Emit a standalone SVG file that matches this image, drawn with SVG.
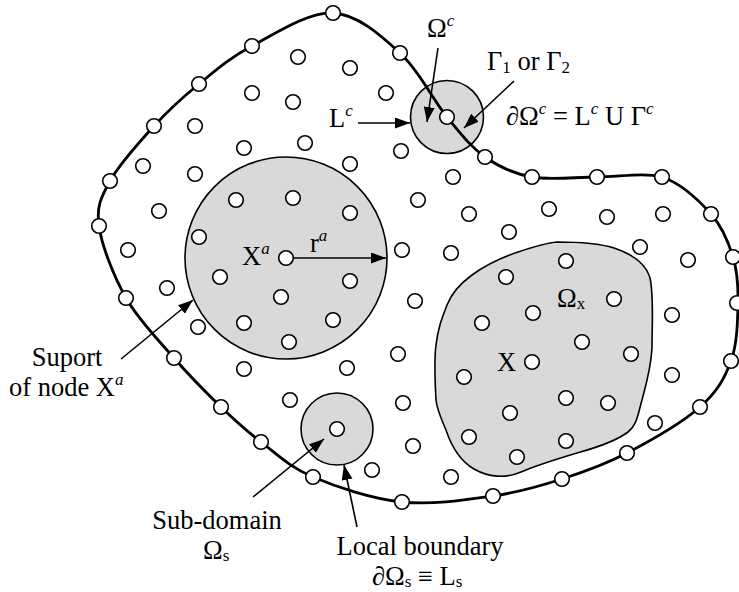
<svg xmlns="http://www.w3.org/2000/svg" xmlns:xlink="http://www.w3.org/1999/xlink" width="739" height="592" viewBox="0 0 739 592">
<style>
.region{fill:#d9d9d9;stroke:#000;stroke-width:1.6}
.domain{fill:none;stroke:#000;stroke-width:2.8}
.nd{fill:#fff;stroke:#000;stroke-width:1.6}
.arr{fill:none;stroke:#000;stroke-width:1.6;marker-end:url(#ah)}
text{font-family:"Liberation Serif","Times New Roman",serif;font-size:26.5px;fill:#000}
.sm{font-size:17px}
</style>
<defs>
<marker id="ah" markerUnits="userSpaceOnUse" markerWidth="16" markerHeight="12" refX="15" refY="5.5" orient="auto">
<path d="M0,0 L15,5.5 L0,11 z" fill="#000"/>
</marker>
<circle id="n" r="7.3"/>
</defs>
<rect width="739" height="592" fill="#fff"/>

<g id="support-xa">
<circle class="region" cx="286" cy="258" r="101"/>
</g>
<g id="omega-c">
<circle class="region" cx="447" cy="117" r="36.5"/>
</g>
<g id="omega-s">
<circle class="region" cx="337" cy="429" r="36"/>
</g>
<g id="omega-x">
<path class="region" d="M436,400 C435,382 434,360 436,345 C438,328 442,318 447,305 C452,292 461,283 472,275 C487,264 503,257 518,252 C533,247 545,243 557,242 C575,242 598,243 614,248 C632,254 646,264 650,278 C654,296 652,325 652,348 C651,368 646,385 642,400 C638,414 637,425 628,432 C615,442 595,448 577,453 C557,459 537,465 521,472 C505,479 488,477 474,469 C460,461 451,445 446,430 C441,418 437,410 436,400 Z"/>
</g>
<g id="domain">
<path class="domain" d="M333,13 C357.7,14.2 381,35.7 400,53 C419,70.3 432.8,99.7 447,117 C461.2,134.3 470.8,147 485,157 C499.2,167 513.3,173.7 532,177 C550.7,180.3 575.3,177 597,177 C618.7,177 643,172 662,177 C681,183.2 699.2,200.7 711,214 C722.8,227.3 728.5,242.2 733,257 C737.5,271.8 738.3,285.7 738,303 C737.7,320.3 737.3,343.7 731,361 C724.7,378.3 717.3,391.7 700,407 C682.7,422.3 650,441 627,453 C604,465 584.3,471.8 562,479 C539.7,486.2 519.7,492.2 493,496 C466.3,499.8 432,505.2 402,502 C372,498.8 336.5,487 313,477 C289.5,467 276.3,453.7 261,442 C245.7,430.3 235.5,421 221,407 C206.5,393 189.8,376.2 174,358 C158.2,339.8 138.5,320 126,298 C113.5,276 101.7,245.5 99,226 C96.3,206.5 100.8,197.7 110,181 C119.2,164.3 139.2,142.2 154,126 C168.8,109.8 182.7,97.3 199,84 C215.3,70.7 229.7,57.8 252,46 C274.3,34.2 308.3,11.8 333,13 Z"/>
</g>

<g id="boundary-nodes" class="nd">
<use href="#n" x="333" y="13"/><use href="#n" x="400" y="53"/><use href="#n" x="485" y="157"/><use href="#n" x="532" y="177"/><use href="#n" x="597" y="177"/><use href="#n" x="662" y="177"/><use href="#n" x="711" y="214"/><use href="#n" x="733" y="257"/><use href="#n" x="737" y="303"/><use href="#n" x="731" y="361"/><use href="#n" x="700" y="407"/><use href="#n" x="627" y="453"/><use href="#n" x="562" y="479"/><use href="#n" x="493" y="496"/><use href="#n" x="402" y="502"/><use href="#n" x="313" y="477"/><use href="#n" x="261" y="442"/><use href="#n" x="221" y="407"/><use href="#n" x="174" y="358"/><use href="#n" x="126" y="298"/><use href="#n" x="99" y="226"/><use href="#n" x="110" y="181"/><use href="#n" x="154" y="126"/><use href="#n" x="199" y="84"/><use href="#n" x="252" y="46"/>
</g>
<g id="interior-nodes" class="nd">
<use href="#n" x="298" y="57"/><use href="#n" x="350" y="68"/><use href="#n" x="252" y="93"/><use href="#n" x="293" y="102"/><use href="#n" x="195" y="126"/><use href="#n" x="305" y="143"/><use href="#n" x="244" y="148"/><use href="#n" x="350" y="164"/><use href="#n" x="143" y="166"/><use href="#n" x="195" y="174"/>
<use href="#n" x="386" y="93"/><use href="#n" x="401" y="151"/><use href="#n" x="453" y="177"/><use href="#n" x="418" y="200"/>
<use href="#n" x="159" y="211"/><use href="#n" x="128" y="250"/><use href="#n" x="167" y="288"/><use href="#n" x="198" y="327"/><use href="#n" x="244" y="369"/><use href="#n" x="347" y="368"/><use href="#n" x="290" y="400"/>
<use href="#n" x="236" y="200"/><use href="#n" x="293" y="198"/><use href="#n" x="350" y="213"/><use href="#n" x="199" y="237"/><use href="#n" x="220" y="277"/><use href="#n" x="350" y="281"/><use href="#n" x="281" y="297"/><use href="#n" x="244" y="323"/><use href="#n" x="333" y="320"/><use href="#n" x="289" y="342"/>
<use href="#n" x="469" y="214"/><use href="#n" x="549" y="209"/><use href="#n" x="607" y="217"/><use href="#n" x="663" y="214"/><use href="#n" x="509" y="232"/><use href="#n" x="402" y="250"/><use href="#n" x="451" y="253"/><use href="#n" x="640" y="247"/><use href="#n" x="688" y="260"/><use href="#n" x="415" y="301"/><use href="#n" x="672" y="315"/><use href="#n" x="398" y="354"/><use href="#n" x="672" y="375"/><use href="#n" x="403" y="403"/>
<use href="#n" x="566" y="261"/><use href="#n" x="506" y="277"/><use href="#n" x="614" y="299"/><use href="#n" x="533" y="313"/><use href="#n" x="482" y="323"/><use href="#n" x="582" y="342"/><use href="#n" x="631" y="354"/><use href="#n" x="464" y="377"/><use href="#n" x="566" y="398"/><use href="#n" x="608" y="403"/><use href="#n" x="510" y="413"/><use href="#n" x="469" y="437"/><use href="#n" x="566" y="441"/><use href="#n" x="517" y="457"/>
<use href="#n" x="413" y="446"/><use href="#n" x="372" y="470"/><use href="#n" x="451" y="477"/><use href="#n" x="655" y="423"/>
</g>
<g id="node-xa" class="nd"><use href="#n" x="286" y="258"/></g>
<g id="node-x" class="nd"><use href="#n" x="532" y="362"/></g>
<g id="node-c" class="nd"><use href="#n" x="447" y="117"/></g>
<g id="node-s" class="nd"><use href="#n" x="337" y="429"/></g>

<g id="connectors">
<path class="arr" d="M438,48 L427,122"/>
<path class="arr" d="M514,81 L464,128"/>
<path class="arr" d="M358,123 L410,123"/>
<path class="arr" d="M293,258 L386,258"/>
<path class="arr" d="M121,359 L193,300"/>
<path class="arr" d="M253,497 L324,439"/>
<path class="arr" d="M357,527 L344,465"/>
</g>

<g id="labels">
<text x="427" y="37">Ω<tspan class="sm" dy="-11" font-style="italic">c</tspan></text>
<text x="487" y="70">Γ<tspan class="sm" dy="3">1</tspan><tspan dy="-3"> or Γ</tspan><tspan class="sm" dy="3">2</tspan></text>
<text x="506" y="125">∂Ω<tspan class="sm" dy="-11" font-style="italic">c</tspan><tspan dy="11"> = L</tspan><tspan class="sm" dy="-11" font-style="italic">c</tspan><tspan dy="11"> U Γ</tspan><tspan class="sm" dy="-11" font-style="italic">c</tspan></text>
<text x="329" y="127">L<tspan class="sm" dy="-11" font-style="italic">c</tspan></text>
<text x="242" y="265">X<tspan class="sm" dy="-11" font-style="italic">a</tspan></text>
<text x="310" y="252">r<tspan class="sm" dy="-11" font-style="italic">a</tspan></text>
<text x="557" y="307">Ω<tspan class="sm" dy="2">x</tspan></text>
<text x="497" y="371">X</text>
<text x="67" y="366" text-anchor="middle">Suport</text>
<text x="9" y="396">of node X<tspan class="sm" dy="-11" font-style="italic">a</tspan></text>
<text x="217" y="529" text-anchor="middle">Sub-domain</text>
<text x="203" y="559">Ω<tspan class="sm" dy="2">s</tspan></text>
<text x="420" y="555" text-anchor="middle">Local boundary</text>
<text x="372" y="585">∂Ω<tspan class="sm" dy="2">s</tspan><tspan dy="-2"> ≡ L</tspan><tspan class="sm" dy="2">s</tspan></text>
</g>
</svg>
